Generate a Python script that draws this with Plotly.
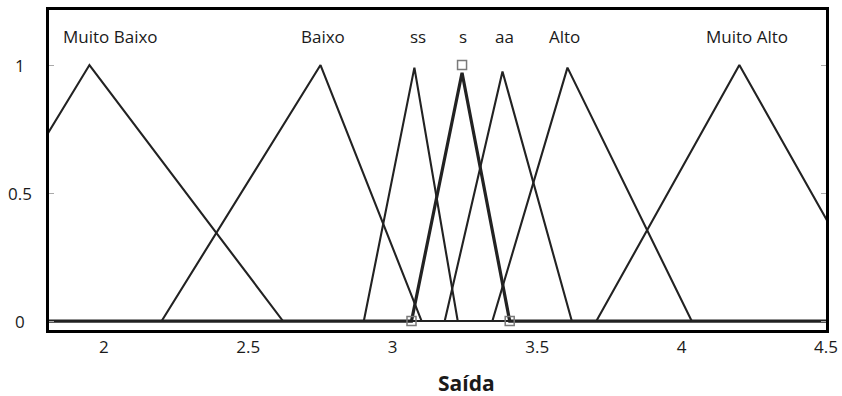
import plotly.graph_objects as go

# ---- data ----
mf_names = ["Muito Baixo", "Baixo", "ss", "s", "aa", "Alto", "Muito Alto"]
mf_left = [1.41, 2.20, 2.90, 3.065, 3.18, 3.345, 3.705]
mf_peak_x = [1.95, 2.75, 3.075, 3.24, 3.38, 3.605, 4.20]
mf_right = [2.62, 3.10, 3.225, 3.405, 3.62, 4.035, 4.70]
mf_peak_y = [1.0, 1.0, 0.99, 0.97, 0.975, 0.99, 1.0]
label_x = [2.024, 2.758, 3.087, 3.242, 3.388, 3.595, 4.228]

selected = "s"
sel_points_x = [3.065, 3.24, 3.405]
sel_points_y = [0, 1, 0]

xtick_vals = [2, 2.5, 3, 3.5, 4, 4.5]
xtick_text = ["2", "2.5", "3", "3.5", "4", "4.5"]
ytick_vals = [0, 0.5, 1]
ytick_text = ["0", "0.5", "1"]

x_min, x_max = 1.81, 4.5
y_min, y_max = -0.035, 1.215

FONT = "Open Sans"
LINE = "#222222"
W, H = 842, 396
ML, MR, MT, MB = 49, 16, 10, 66
PW, PH = W - ML - MR, H - MT - MB

fig = go.Figure()
for name, a, b, c, p in zip(mf_names, mf_left, mf_peak_x, mf_right, mf_peak_y):
    fig.add_trace(go.Scatter(
        x=[x_min, a, b, c, x_max], y=[0, 0, p, 0, 0],
        mode="lines", name=name,
        line=dict(color=LINE, width=3.2 if name == selected else 2.1),
        showlegend=False, hoverinfo="skip",
    ))

fig.add_trace(go.Scatter(
    x=sel_points_x, y=sel_points_y, mode="markers",
    marker=dict(symbol="square-open", size=9, color="#7a7a7a", line=dict(width=1.5)),
    showlegend=False, hoverinfo="skip", cliponaxis=False,
))

annotations = []
for name, lx in zip(mf_names, label_x):
    annotations.append(dict(x=lx, y=1.11, xref="x", yref="y", text=name,
                            showarrow=False, font=dict(family=FONT, size=17, color="#1a1a1a")))
for v, t in zip(ytick_vals, ytick_text):
    annotations.append(dict(x=(20 - ML) / PW, y=v, xref="paper", yref="y", text=t,
                            xanchor="center", yanchor="middle", showarrow=False,
                            font=dict(family=FONT, size=17, color="#1a1a1a")))
annotations.append(dict(x=(467 - ML) / PW, y=-(383 - (H - MB)) / PH, xref="paper", yref="paper",
                        text="<b>Saída</b>", xanchor="center", yanchor="middle",
                        showarrow=False, font=dict(family=FONT, size=21, color="#1a1a1a")))

fig.update_layout(
    width=W, height=H,
    margin=dict(l=ML, r=MR, t=MT, b=MB, autoexpand=False),
    plot_bgcolor="white", paper_bgcolor="white",
    annotations=annotations,
    xaxis=dict(range=[x_min, x_max], tickvals=xtick_vals, ticktext=xtick_text,
               showgrid=False, zeroline=False, showline=True, linecolor="black",
               linewidth=3, mirror=True, ticks="", ticklabelstandoff=0, automargin=False,
               tickfont=dict(family=FONT, size=17, color="#1a1a1a")),
    yaxis=dict(range=[y_min, y_max], tickvals=ytick_vals, showticklabels=False,
               showgrid=False, zeroline=False, showline=True, linecolor="black",
               linewidth=3, mirror="ticks", ticks="inside", ticklen=5, automargin=False,
               tickcolor="#aaaaaa", tickwidth=1),
)

fig.write_html("out.html")
